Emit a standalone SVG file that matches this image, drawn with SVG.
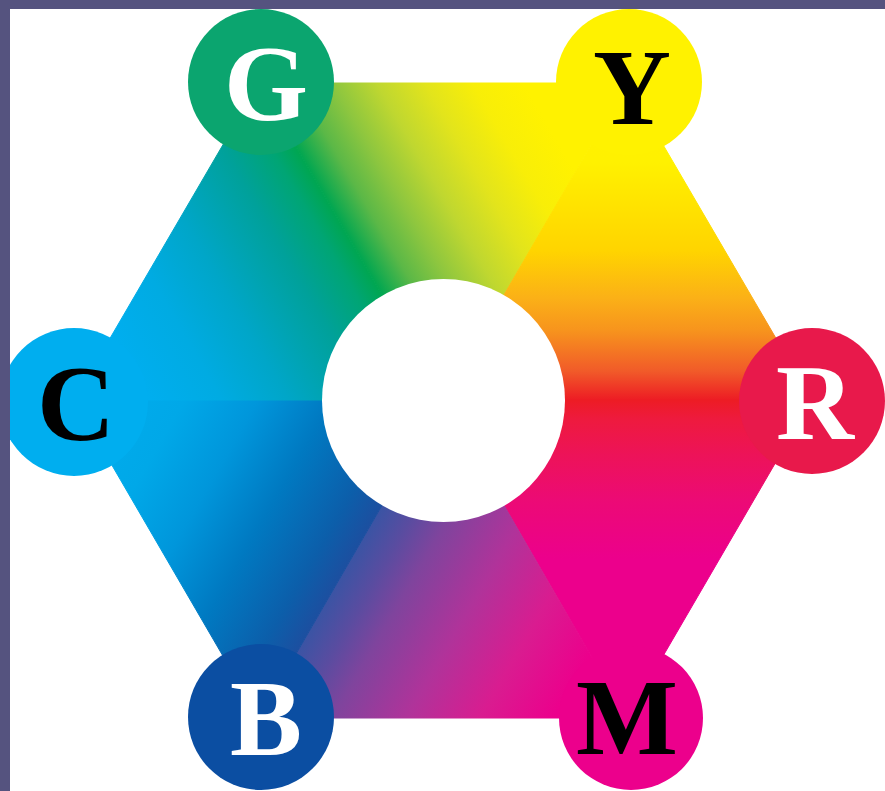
<svg xmlns="http://www.w3.org/2000/svg" width="885" height="791" viewBox="0 0 885 791">
  <style>
    .letter { font-family: "Liberation Serif", "DejaVu Serif", serif; font-weight: bold; font-size: 108px; text-anchor: middle; }
    .light { fill: #ffffff; }
    .dark { fill: #000000; }
    .sector { stroke-width: 1; stroke-linejoin: round; }
  </style>
  <defs>
    <clipPath id="panel">
      <rect x="10" y="9" width="875" height="782"/>
    </clipPath>
    <linearGradient id="gGY" gradientUnits="userSpaceOnUse" x1="443" y1="400" x2="718" y2="240">
      <stop offset="0" stop-color="#00a651"/>
      <stop offset="0.1" stop-color="#5bb847"/>
      <stop offset="0.2" stop-color="#8dc63f"/>
      <stop offset="0.32" stop-color="#bfd730"/>
      <stop offset="0.45" stop-color="#e2e41c"/>
      <stop offset="0.58" stop-color="#f8ee08"/>
      <stop offset="0.72" stop-color="#fff200"/>
      <stop offset="1" stop-color="#fff200"/>
    </linearGradient>
    <linearGradient id="gYR" gradientUnits="userSpaceOnUse" x1="0" y1="400" x2="0" y2="83">
      <stop offset="0" stop-color="#ed1c24"/>
      <stop offset="0.09" stop-color="#f15a29"/>
      <stop offset="0.22" stop-color="#f7941d"/>
      <stop offset="0.32" stop-color="#fbb017"/>
      <stop offset="0.47" stop-color="#ffd400"/>
      <stop offset="0.75" stop-color="#fff100"/>
      <stop offset="1" stop-color="#fff200"/>
    </linearGradient>
    <linearGradient id="gRM" gradientUnits="userSpaceOnUse" x1="0" y1="400" x2="0" y2="718">
      <stop offset="0" stop-color="#ed1c24"/>
      <stop offset="0.06" stop-color="#ee1a3e"/>
      <stop offset="0.17" stop-color="#ed1358"/>
      <stop offset="0.32" stop-color="#ec0a76"/>
      <stop offset="0.5" stop-color="#ec008c"/>
      <stop offset="1" stop-color="#ec008c"/>
    </linearGradient>
    <linearGradient id="gMB" gradientUnits="userSpaceOnUse" x1="443" y1="400" x2="719" y2="560">
      <stop offset="0" stop-color="#3a54a4"/>
      <stop offset="0.1" stop-color="#5a4ca0"/>
      <stop offset="0.2" stop-color="#7f449d"/>
      <stop offset="0.4" stop-color="#b0339a"/>
      <stop offset="0.6" stop-color="#d91c90"/>
      <stop offset="0.8" stop-color="#ec008c"/>
      <stop offset="1" stop-color="#ec008c"/>
    </linearGradient>
    <linearGradient id="gBC" gradientUnits="userSpaceOnUse" x1="443" y1="400" x2="167" y2="240">
      <stop offset="0" stop-color="#1c4fa0"/>
      <stop offset="0.1" stop-color="#0c5eaa"/>
      <stop offset="0.3" stop-color="#0079c1"/>
      <stop offset="0.5" stop-color="#0096db"/>
      <stop offset="0.7" stop-color="#00a8e8"/>
      <stop offset="1" stop-color="#00aeef"/>
    </linearGradient>
    <linearGradient id="gCG" gradientUnits="userSpaceOnUse" x1="443" y1="400" x2="168" y2="560">
      <stop offset="0" stop-color="#00a651"/>
      <stop offset="0.07" stop-color="#00a574"/>
      <stop offset="0.2" stop-color="#00a19a"/>
      <stop offset="0.42" stop-color="#00a6c8"/>
      <stop offset="0.6" stop-color="#00abe2"/>
      <stop offset="0.8" stop-color="#00aeef"/>
      <stop offset="1" stop-color="#00aeef"/>
    </linearGradient>
  </defs>

  <rect id="background" x="0" y="0" width="885" height="791" fill="#55537f"/>
  <rect id="panel-bg" x="10" y="9" width="875" height="782" fill="#ffffff"/>

  <g clip-path="url(#panel)">
    <g id="connectors">
      <polygon id="edge-G-Y" class="sector" points="443,400 259,83 627,83" fill="url(#gGY)" stroke="url(#gGY)"/>
      <polygon id="edge-Y-R" class="sector" points="443,400 627,83 812,400" fill="url(#gYR)" stroke="url(#gYR)"/>
      <polygon id="edge-R-M" class="sector" points="443,400 812,400 627,718" fill="url(#gRM)" stroke="url(#gRM)"/>
      <polygon id="edge-M-B" class="sector" points="443,400 627,718 259,718" fill="url(#gMB)" stroke="url(#gMB)"/>
      <polygon id="edge-B-C" class="sector" points="443,400 259,718 74,400" fill="url(#gBC)" stroke="url(#gBC)"/>
      <polygon id="edge-C-G" class="sector" points="443,400 74,400 259,83" fill="url(#gCG)" stroke="url(#gCG)"/>
      <circle id="hub" cx="443.5" cy="400.5" r="121.5" fill="#ffffff"/>
    </g>

    <g id="node-G">
      <circle cx="261" cy="82" r="73" fill="#0ba56f"/>
      <text class="letter light" x="266" y="120">G</text>
    </g>
    <g id="node-Y">
      <circle cx="629" cy="82" r="73" fill="#fff200"/>
      <text class="letter dark" x="632" y="124">Y</text>
    </g>
    <g id="node-R">
      <circle cx="812" cy="401" r="73" fill="#e8194b"/>
      <text class="letter light" x="815" y="439">R</text>
    </g>
    <g id="node-M">
      <circle cx="631" cy="718" r="72" fill="#ec008c"/>
      <text class="letter dark" x="627" y="754">M</text>
    </g>
    <g id="node-B">
      <circle cx="261" cy="717" r="73" fill="#0b4ea2"/>
      <text class="letter light" x="266" y="755">B</text>
    </g>
    <g id="node-C">
      <circle cx="74" cy="402" r="74" fill="#00aeef"/>
      <text class="letter dark" x="76" y="440">C</text>
    </g>
  </g>
</svg>
